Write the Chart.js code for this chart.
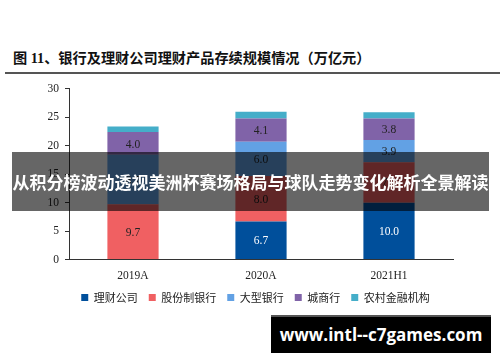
<!DOCTYPE html>
<html>
<head>
<meta charset="utf-8">
<script src="https://cdn.jsdelivr.net/npm/chart.js@4.4.1/dist/chart.umd.min.js"></script>
<style>
  html, body { margin: 0; padding: 0; background: #fff; }
  #page { position: relative; width: 500px; height: 362px; overflow: hidden; background: #fff; }
  #title {
    position: absolute; left: 13px; top: 47px; white-space: nowrap;
    font-family: "Liberation Serif", "Noto Sans CJK SC", serif; font-weight: bold;
    font-size: 14.2px; color: #111;
  }
  #rule { position: absolute; left: 5px; right: 0; top: 72px; height: 2px; background: #555; }
  #wrap { position: absolute; left: 0; top: 76px; width: 500px; height: 237px; }
  #banner {
    position: absolute; left: 12px; top: 152px; width: 477px; height: 59px;
    background: rgba(0,0,0,0.6); color: #fff; overflow: hidden;
    font-family: "Noto Sans CJK SC", sans-serif; font-weight: bold; font-size: 17px;
    line-height: 59px; white-space: nowrap; text-align: center;
  }
  #mark {
    position: absolute; left: 271px; top: 315px; width: 220px; height: 38px;
    background: #000; border-top: 2px solid #555; box-sizing: border-box; color: #fff;
    font-family: "Open Sans", sans-serif; font-weight: bold; font-size: 17px;
    line-height: 35px; text-align: center; white-space: nowrap;
  }
</style>
</head>
<body>
<div id="page">
  <div id="title">图 11、银行及理财公司理财产品存续规模情况（万亿元）</div>
  <div id="rule"></div>
  <div id="wrap"><canvas id="chart" width="500" height="237"></canvas></div>
  <div id="banner">从积分榜波动透视美洲杯赛场格局与球队走势变化解析全景解读</div>
  <div id="mark">www.intl--c7games.com</div>
</div>
<script>
// 数据（万亿元）
const categories = ['2019A', '2020A', '2021H1'];
const seriesNames = ['理财公司', '股份制银行', '大型银行', '城商行', '农村金融机构'];
const wealthCo   = [0, 6.7, 10.0];
const jointStock = [9.7, 8.0, 7.1];
const largeBanks = [8.7, 6.0, 3.9];
const cityBanks  = [4.0, 4.1, 3.8];
const ruralInst  = [1.0, 1.2, 1.1];
const yTicks = [0, 5, 10, 15, 20, 25, 30];

const colors = ['#004f9b', '#f06062', '#62a1e4', '#8063a8', '#45aec9'];
const labelColors = ['#ffffff', '#222222', '#222222', '#222222', null];

// 数值标签：画在每段柱子中间
const segmentLabels = {
    id: 'segmentLabels',
    afterDatasetsDraw(chart) {
        const ctx = chart.ctx;
        ctx.save();
        ctx.font = '11.5px "Liberation Serif", serif';
        ctx.textAlign = 'center';
        ctx.textBaseline = 'middle';
        chart.data.datasets.forEach((ds, i) => {
            if (!labelColors[i]) return;
            chart.getDatasetMeta(i).data.forEach((bar, j) => {
                const v = ds.data[j];
                if (!v) return;
                ctx.fillStyle = labelColors[i];
                ctx.fillText(v.toFixed(1), bar.x, (bar.y + bar.base) / 2 + 1);
            });
        });
        ctx.restore();
    }
};

// 图例整体右移，和原图对齐在绘图区下方
const legendShift = {
    id: 'legendShift',
    afterLayout(chart) {
        if (!chart.legend) return;
        chart.legend.left += 29;
        chart.legend.right += 29;
    }
};

const allSeries = [wealthCo, jointStock, largeBanks, cityBanks, ruralInst];

new Chart(document.getElementById('chart'), {
    type: 'bar',
    data: {
        labels: categories,
        datasets: allSeries.map((d, i) => ({
            label: seriesNames[i],
            data: d,
            backgroundColor: colors[i],
            borderWidth: 0,
            categoryPercentage: 1,
            barPercentage: 0.4
        }))
    },
    options: {
        responsive: false,
        animation: false,
        layout: { padding: { left: 0, right: 47, top: 11, bottom: 0 } },
        plugins: {
            legend: {
                position: 'bottom',
                labels: {
                    boxWidth: 7, boxHeight: 7, padding: 11, color: '#222',
                    font: { family: '"Noto Sans CJK SC", sans-serif', size: 11 }
                }
            },
            tooltip: { enabled: false }
        },
        scales: {
            x: {
                stacked: true,
                afterFit: axis => { axis.height = 21.5; },
                grid: { display: true, drawOnChartArea: false, drawTicks: false },
                border: { color: '#333', width: 1 },
                ticks: { color: '#222', padding: 10, font: { family: '"Liberation Serif", serif', size: 11.5 } }
            },
            y: {
                stacked: true,
                min: 0, max: 30,
                afterBuildTicks: axis => { axis.ticks = yTicks.map(v => ({ value: v })); },
                afterFit: axis => { axis.width = 69; },
                grid: { drawOnChartArea: false, drawTicks: true, tickLength: 4, color: '#333' },
                border: { color: '#333', width: 1 },
                ticks: { color: '#222', padding: 6, font: { family: '"Liberation Serif", serif', size: 11.5 } }
            }
        }
    },
    plugins: [segmentLabels, legendShift]
});
</script>
</body>
</html>
